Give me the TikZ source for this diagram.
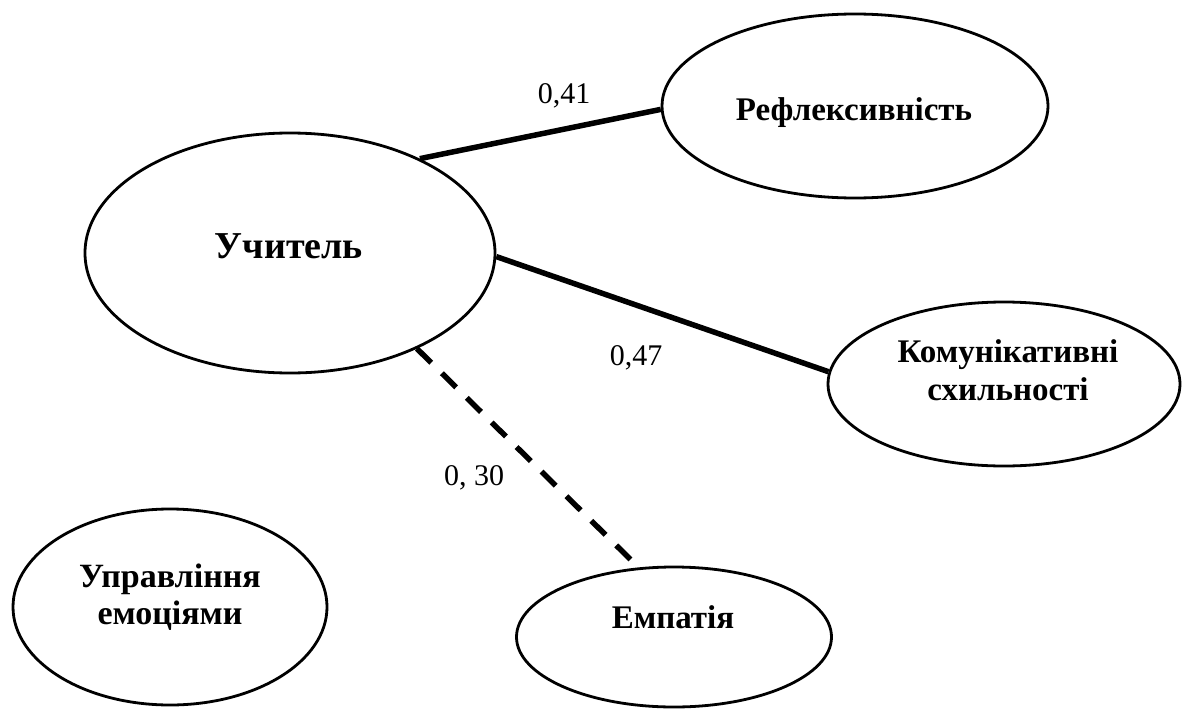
\documentclass[tikz,border=0pt]{standalone}
\usepackage{fontspec}
\setmainfont{Liberation Serif}
\usetikzlibrary{shapes.geometric}

\tikzset{
  oval/.style={draw, ellipse, line width=2.8pt, inner sep=0pt},
  txt/.style={font=\bfseries\fontsize{33}{38}\selectfont, align=center, anchor=base},
  coef/.style={font=\fontsize{30}{34}\selectfont, anchor=base},
  zv/.style={line width=5.5pt},
}

\begin{document}
\begin{tikzpicture}[x=1pt,y=-1pt]
\useasboundingbox (0,0) rectangle (1183,709);

%еліпси
\node[oval, minimum width=410pt, minimum height=240pt] (uchytel) at (290,253) {};
\node[oval, minimum width=386pt, minimum height=184pt] (refl) at (855,106) {};
\node[oval, minimum width=352pt, minimum height=164pt] (komun) at (1004,384) {};
\node[oval, minimum width=315pt, minimum height=140pt] (empat) at (674,637) {};
\node[oval, minimum width=314pt, minimum height=196pt] (uprav) at (170,607) {};

%написи в еліпсах
\node[txt, font=\bfseries\fontsize{38}{44}\selectfont] (uchytelT) at (289,258) {Учитель};
\node[txt] (reflT) at (854,120) {Рефлексивність};
\node[txt] (komunT) at (1008,400) {Комунікативні\\схильності};
\node[txt] (empatT) at (673,628) {Емпатія};
\node[txt, font=\bfseries\fontsize{34}{37}\selectfont] (upravT) at (170,624) {Управління\\емоціями};

%зв'язки
\draw[zv] (uchytel.36) -- (refl.181);
\draw[zv] (uchytel.-1) -- (komun.176);
\draw[zv, dash pattern=on 20pt off 15pt] (uchytel.-37) -- (empat.117);

%коефіцієнти
\node[coef] (k41) at (564,103) {0,41};
\node[coef] (k47) at (636,365) {0,47};
\node[coef] (k30) at (474,485) {0, 30};
\end{tikzpicture}
\end{document}
